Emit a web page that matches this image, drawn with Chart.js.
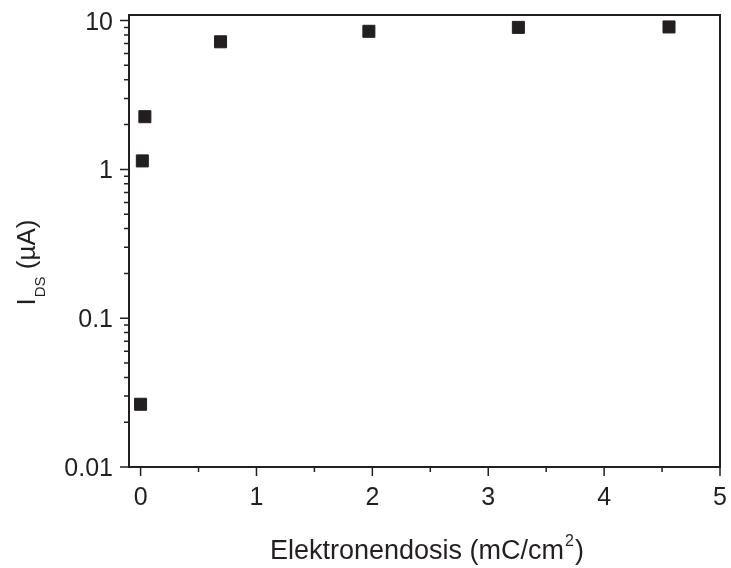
<!DOCTYPE html>
<html>
<head>
<meta charset="utf-8">
<script src="https://cdn.jsdelivr.net/npm/chart.js@4/dist/chart.umd.min.js"></script>
<style>
  html, body { margin: 0; padding: 0; background: #fff; }
  #wrap { width: 731px; height: 568px; }
</style>
</head>
<body>
<div id="wrap"><canvas id="chart"></canvas></div>
<script>
// datos
const dosis = [0.0, 0.015, 0.037, 0.69, 1.97, 3.26, 4.56];
const corriente = [0.0264, 1.14, 2.26, 7.2, 8.47, 9.0, 9.06];

const xTicks = [0, 1, 2, 3, 4, 5];
const xTickLabels = ['0', '1', '2', '3', '4', '5'];
const xMinor = [0.5, 1.5, 2.5, 3.5, 4.5];
const yTicks = [0.01, 0.1, 1, 10];
const yTickLabels = ['0.01', '0.1', '1', '10'];
const yMinor = [];
[0.01, 0.1, 1].forEach(d => { for (let k = 2; k <= 9; k++) yMinor.push(+(d * k).toPrecision(2)); });

const INK = '#231f20';
const FONT = '"Liberation Sans", Arial, sans-serif';

// ejes, marcas, etiquetas y titulos con sub/superindices
const axesPlugin = {
  id: 'axesPlugin',
  afterDraw(chart) {
    const ctx = chart.ctx;
    const a = chart.chartArea;
    const xs = chart.scales.x, ys = chart.scales.y;
    ctx.save();
    ctx.strokeStyle = INK;
    ctx.lineWidth = 2;
    ctx.strokeRect(a.left, a.top, a.right - a.left, a.bottom - a.top);

    ctx.lineWidth = 1.5;
    ctx.beginPath();
    xTicks.forEach(v => { const p = xs.getPixelForValue(v); ctx.moveTo(p, a.bottom); ctx.lineTo(p, a.bottom + 9); });
    xMinor.forEach(v => { const p = xs.getPixelForValue(v); ctx.moveTo(p, a.bottom); ctx.lineTo(p, a.bottom + 5); });
    yTicks.forEach(v => { const p = ys.getPixelForValue(v); ctx.moveTo(a.left, p); ctx.lineTo(a.left - 9, p); });
    yMinor.forEach(v => { const p = ys.getPixelForValue(v); ctx.moveTo(a.left, p); ctx.lineTo(a.left - 5, p); });
    ctx.stroke();

    ctx.fillStyle = INK;
    ctx.textBaseline = 'alphabetic';
    ctx.font = '25px ' + FONT;
    ctx.textAlign = 'center';
    xTicks.forEach((v, i) => ctx.fillText(xTickLabels[i], xs.getPixelForValue(v), a.bottom + 38));
    ctx.textAlign = 'right';
    yTicks.forEach((v, i) => ctx.fillText(yTickLabels[i], a.left - 16, ys.getPixelForValue(v) + 9));
    ctx.textAlign = 'left';

    // titulo eje x
    const bigX = '27px ' + FONT, sup = '16px ' + FONT;
    ctx.font = bigX;
    const t1 = 'Elektronendosis (mC/cm', t3 = ')';
    const w1 = ctx.measureText(t1).width, w3 = ctx.measureText(t3).width;
    ctx.font = sup;
    const w2 = ctx.measureText('2').width;
    let x = 426 - (w1 + w2 + w3) / 2;
    const yb = 559;
    ctx.font = bigX; ctx.fillText(t1, x, yb); x += w1 + 1;
    ctx.font = sup; ctx.fillText('2', x, yb - 13); x += w2 + 1;
    ctx.font = bigX; ctx.fillText(t3, x, yb);

    // titulo eje y (rotado)
    const bigY = '26px ' + FONT, sub = '15px ' + FONT;
    ctx.translate(35, 263);
    ctx.rotate(-Math.PI / 2);
    ctx.font = bigY;
    const s1 = 'I', s3 = ' (\u00b5A)';
    const v1 = ctx.measureText(s1).width, v3 = ctx.measureText(s3).width;
    ctx.font = sub;
    const v2 = ctx.measureText('DS').width;
    let px = -(v1 + v2 + v3) / 2;
    ctx.font = bigY; ctx.fillText(s1, px, 0); px += v1 + 1;
    ctx.font = sub; ctx.fillText('DS', px, 10); px += v2;
    ctx.font = bigY; ctx.fillText(s3, px, 0);
    ctx.restore();
  }
};

new Chart(document.getElementById('chart'), {
  type: 'scatter',
  data: {
    datasets: [{
      data: dosis.map((d, i) => ({ x: d, y: corriente[i] })),
      pointStyle: 'rect',
      pointRadius: 8.5,
      pointHoverRadius: 8.5,
      backgroundColor: INK,
      borderColor: INK,
      borderWidth: 1
    }]
  },
  options: {
    responsive: true,
    maintainAspectRatio: false,
    animation: false,
    layout: { padding: { left: 0, top: 15, right: 11, bottom: 0 } },
    plugins: { legend: { display: false }, tooltip: { enabled: false } },
    scales: {
      x: {
        type: 'linear',
        min: -0.1,
        max: 5,
        grid: { display: false, drawTicks: false },
        border: { display: false },
        afterBuildTicks: s => { s.ticks = xTicks.map(v => ({ value: v })); },
        afterFit: s => { s.height = 101; },
        ticks: { display: false }
      },
      y: {
        type: 'logarithmic',
        min: 0.01,
        max: 10.9,
        grid: { display: false, drawTicks: false },
        border: { display: false },
        afterBuildTicks: s => { s.ticks = yTicks.map(v => ({ value: v })); },
        afterFit: s => { s.width = 129; },
        ticks: { display: false }
      }
    }
  },
  plugins: [axesPlugin]
});
</script>
</body>
</html>
